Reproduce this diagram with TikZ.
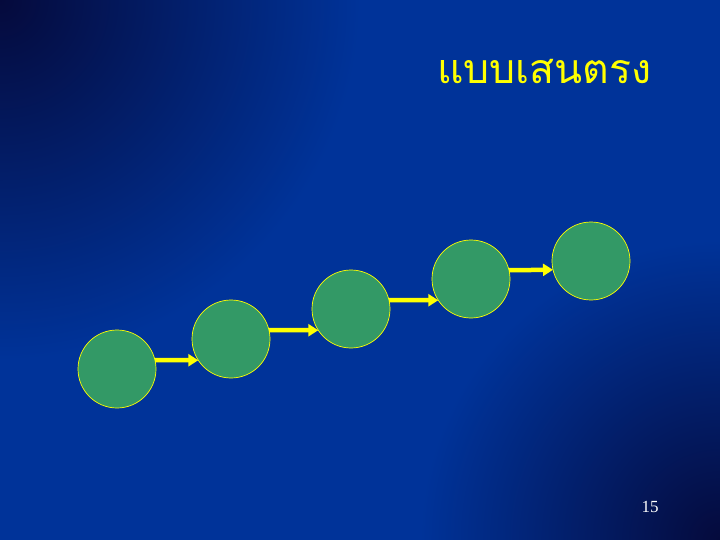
\documentclass[tikz,border=0pt]{standalone}
\usepackage{fontspec}
\usetikzlibrary{arrows.meta}
\newfontfamily\thaifont[Script=Thai]{Loma}
\newfontfamily\numfont{Liberation Serif}
\definecolor{bgblue}{RGB}{0,51,153}
\definecolor{bgdark}{RGB}{5,10,60}
\definecolor{ballgreen}{RGB}{51,153,102}
\definecolor{titleyellow}{RGB}{255,255,0}

\begin{document}
\begin{tikzpicture}[x=1pt,y=-1pt,
    ball/.style={circle,fill=ballgreen,draw=titleyellow,line width=0.7pt,
                 minimum size=78pt,inner sep=0pt,outer sep=0pt},
    flow/.style={draw=titleyellow,line width=4.5pt,
                 -{Triangle[length=10pt,width=12pt]}}]
    % background
    \useasboundingbox (0,0) rectangle (720,540);
    \begin{scope}
    \clip (0,0) rectangle (720,540);
    \fill[bgblue] (0,0) rectangle (720,540);
    \shade[inner color=bgdark,outer color=bgblue] (0,0) circle (360);
    \shade[inner color=bgdark,outer color=bgblue] (720,540) circle (300);
    \end{scope}

    % title and page number
    \node[anchor=base west,inner sep=0pt,text=titleyellow,font=\thaifont\fontsize{41}{41}\selectfont]
        (title) at (437,84) {แบบเสนตรง};
    \node[anchor=base,inner sep=0pt,text=white,font=\numfont\fontsize{17}{17}\selectfont]
        (page) at (650,512) {15};

    % the five steps
    \foreach \n/\x/\y in {1/117/369,2/231/339,3/351/309,4/471/279,5/591/261}
        {\node[ball] (c\n) at (\x,\y) {};}

    \foreach \a/\b/\s/\t in {1/2/13/213,2/3/13/213,3/4/13/213,4/5/13/193}
        {\draw[flow] (c\a.\s) -- (c\b.\t);}
\end{tikzpicture}
\end{document}
